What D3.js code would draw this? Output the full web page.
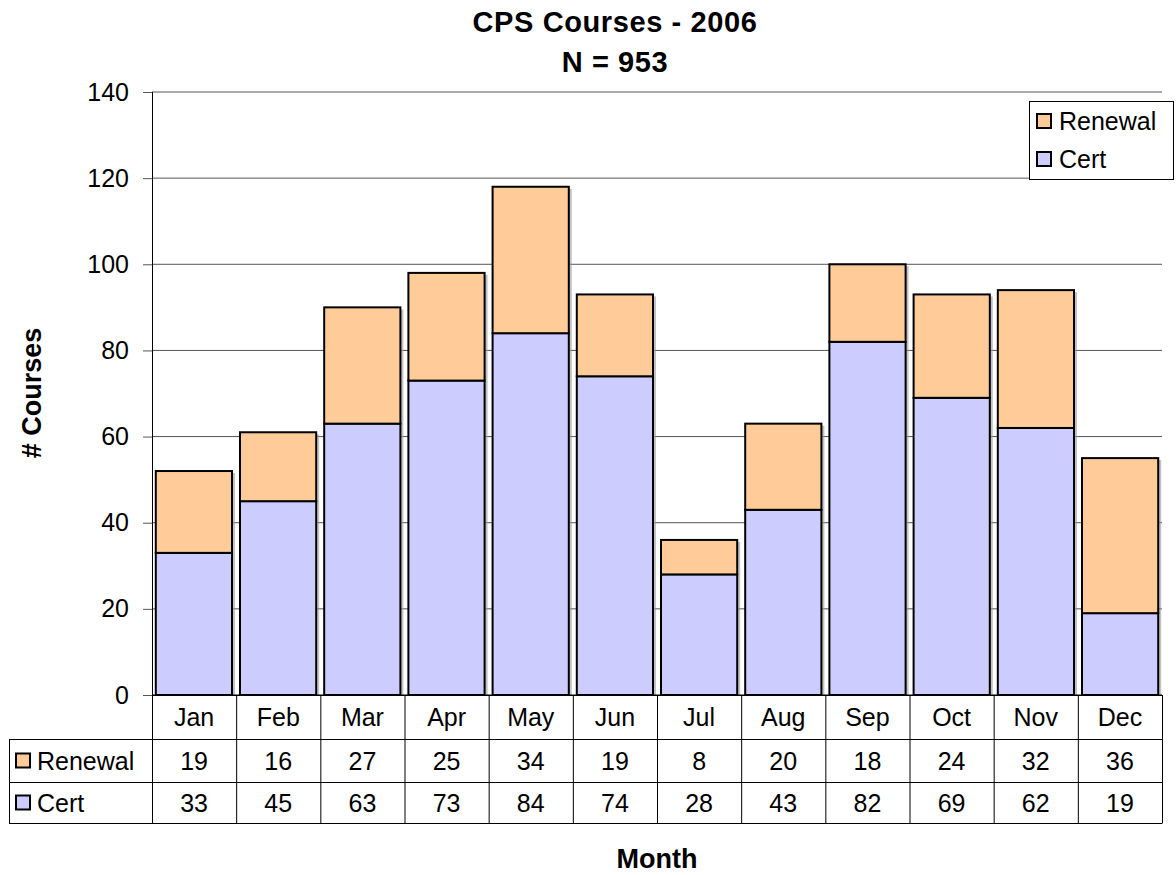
<!DOCTYPE html>
<html>
<head>
<meta charset="utf-8">
<script src="https://cdn.jsdelivr.net/npm/d3@7"></script>
<style>
  body { margin: 0; background: #fff; }
  text { font-family: "Liberation Sans", Arial, sans-serif; }
</style>
</head>
<body>
<div id="chart"></div>
<script>
// data
var months = ["Jan","Feb","Mar","Apr","May","Jun","Jul","Aug","Sep","Oct","Nov","Dec"]
var cert = [33,45,63,73,84,74,28,43,82,69,62,19]
var renewal = [19,16,27,25,34,19,8,20,18,24,32,36]
var yTicks = [0,20,40,60,80,100,120,140]

var colors = {Renewal: "#FFCC99", Cert: "#CCCCFF"}
var fs = "25px"

var W = 1176, H = 875
var margin = {top: 92, right: 14, bottom: 180, left: 152}
var width = W - margin.left - margin.right,
    height = H - margin.top - margin.bottom

var svg = d3.select("#chart").append("svg")
    .attr("width", W)
    .attr("height", H)

var g = svg.append("g")
    .attr("transform", "translate(" + margin.left + "," + margin.top + ")")

var x = d3.scaleBand()
    .domain(months)
    .range([0, width])
    .paddingInner(0.095)
    .paddingOuter(0.045)

var band = d3.scaleBand().domain(months).range([0, width])

var y = d3.scaleLinear()
    .domain([0, 140])
    .range([height, 0])

// gridlines
g.append("g")
  .selectAll("line")
  .data(yTicks.slice(1))
  .enter().append("line")
  .attr("x1", 0).attr("x2", width)
  .attr("y1", d => y(d)).attr("y2", d => y(d))
  .attr("stroke", "#555")
  .attr("stroke-width", 1)

// y axis
var yAxis = g.append("g")
  .call(d3.axisLeft(y).tickValues(yTicks).tickSize(9).tickPadding(14))
yAxis.select(".domain").attr("stroke", "#000").attr("d", "M0.5," + height + "V0")
yAxis.selectAll(".tick line").attr("stroke", "#555")
yAxis.selectAll("text").style("font-size", fs).attr("fill", "#000")

// stacked bars
var stackData = months.map(function(m, i) { return {month: m, Cert: cert[i], Renewal: renewal[i]} })
var series = d3.stack().keys(["Cert", "Renewal"])(stackData)

// faint shadow
g.append("g").selectAll("rect")
  .data(series[1])
  .enter().append("rect")
  .attr("x", d => x(d.data.month) + 3)
  .attr("y", d => y(d[1]) + 2)
  .attr("width", x.bandwidth())
  .attr("height", d => y(0) - y(d[1]) - 2)
  .attr("fill", "#999")
  .attr("opacity", 0.6)

g.append("g").selectAll("g")
  .data(series)
  .enter().append("g")
  .attr("fill", d => colors[d.key])
  .selectAll("rect")
  .data(d => d)
  .enter().append("rect")
  .attr("x", d => x(d.data.month))
  .attr("y", d => y(d[1]))
  .attr("width", x.bandwidth())
  .attr("height", d => y(d[0]) - y(d[1]))
  .attr("stroke", "#000")
  .attr("stroke-width", 2)

// x axis line
g.append("line")
  .attr("x1", 0).attr("x2", width)
  .attr("y1", height).attr("y2", height)
  .attr("stroke", "#000")

// data table
var rowH = [44, 43, 41]
var tbl = g.append("g").attr("transform", "translate(0," + height + ")")
var tableLeft = 9 - margin.left
var r1 = rowH[0], r2 = rowH[0] + rowH[1], r3 = rowH[0] + rowH[1] + rowH[2]

tbl.append("g").selectAll("line")
  .data(months.concat(["end"]))
  .enter().append("line")
  .attr("x1", (d, i) => i < months.length ? band(d) + 0.5 : width + 0.5)
  .attr("x2", (d, i) => i < months.length ? band(d) + 0.5 : width + 0.5)
  .attr("y1", 0).attr("y2", r3)
  .attr("stroke", "#000")

tbl.append("g").selectAll("line")
  .data([[0, 0], [tableLeft, r1], [tableLeft, r2], [tableLeft, r3]])
  .enter().append("line")
  .attr("x1", d => d[0]).attr("x2", width + 0.5)
  .attr("y1", d => d[1] + 0.5).attr("y2", d => d[1] + 0.5)
  .attr("stroke", "#000")
tbl.append("line")
  .attr("x1", tableLeft + 0.5).attr("x2", tableLeft + 0.5)
  .attr("y1", r1).attr("y2", r3)
  .attr("stroke", "#000")

tbl.append("g").selectAll("text")
  .data(months)
  .enter().append("text")
  .attr("x", d => band(d) + band.bandwidth() / 2)
  .attr("y", r1 / 2 + 9)
  .attr("text-anchor", "middle")
  .style("font-size", fs)
  .text(d => d)

var rows = [{key: "Renewal", vals: renewal, y0: r1, h: rowH[1]}, {key: "Cert", vals: cert, y0: r2, h: rowH[2]}]
rows.forEach(function(r) {
  tbl.append("g").selectAll("text")
    .data(r.vals)
    .enter().append("text")
    .attr("x", (d, i) => band(months[i]) + band.bandwidth() / 2)
    .attr("y", r.y0 + r.h / 2 + 9)
    .attr("text-anchor", "middle")
    .style("font-size", fs)
    .text(d => d)
  tbl.append("rect")
    .attr("x", tableLeft + 7).attr("y", r.y0 + r.h / 2 - 7)
    .attr("width", 14).attr("height", 14)
    .attr("fill", colors[r.key]).attr("stroke", "#000").attr("stroke-width", 2)
  tbl.append("text")
    .attr("x", tableLeft + 28).attr("y", r.y0 + r.h / 2 + 9)
    .style("font-size", fs)
    .text(r.key)
})

// legend
var legend = svg.append("g").attr("transform", "translate(1029,101)")
legend.append("rect")
  .attr("x", 0.5).attr("y", 0.5)
  .attr("width", 144).attr("height", 78)
  .attr("fill", "#fff").attr("stroke", "#000")
var legItems = ["Renewal", "Cert"]
legend.selectAll(".li")
  .data(legItems)
  .enter().append("g")
  .attr("class", "li")
  .attr("transform", (d, i) => "translate(0," + (20 + i * 38) + ")")
  .each(function(d) {
    var s = d3.select(this)
    s.append("rect").attr("x", 8).attr("y", -7).attr("width", 14).attr("height", 14)
      .attr("fill", colors[d]).attr("stroke", "#000").attr("stroke-width", 2)
    s.append("text").attr("x", 30).attr("y", 9).style("font-size", fs).text(d)
  })

// titles
svg.append("text")
  .attr("x", 615).attr("y", 32)
  .attr("text-anchor", "middle")
  .style("font-size", "29px").style("font-weight", "bold").style("letter-spacing", "0.6px")
  .text("CPS Courses - 2006")
svg.append("text")
  .attr("x", 615).attr("y", 72)
  .attr("text-anchor", "middle")
  .style("font-size", "29px").style("font-weight", "bold").style("letter-spacing", "0.6px")
  .text("N = 953")

svg.append("text")
  .attr("transform", "translate(41,393) rotate(-90)")
  .attr("text-anchor", "middle")
  .style("font-size", "27px").style("font-weight", "bold")
  .text("# Courses")

svg.append("text")
  .attr("x", 657).attr("y", 868)
  .attr("text-anchor", "middle")
  .style("font-size", "27px").style("font-weight", "bold")
  .text("Month")
</script>
</body>
</html>
